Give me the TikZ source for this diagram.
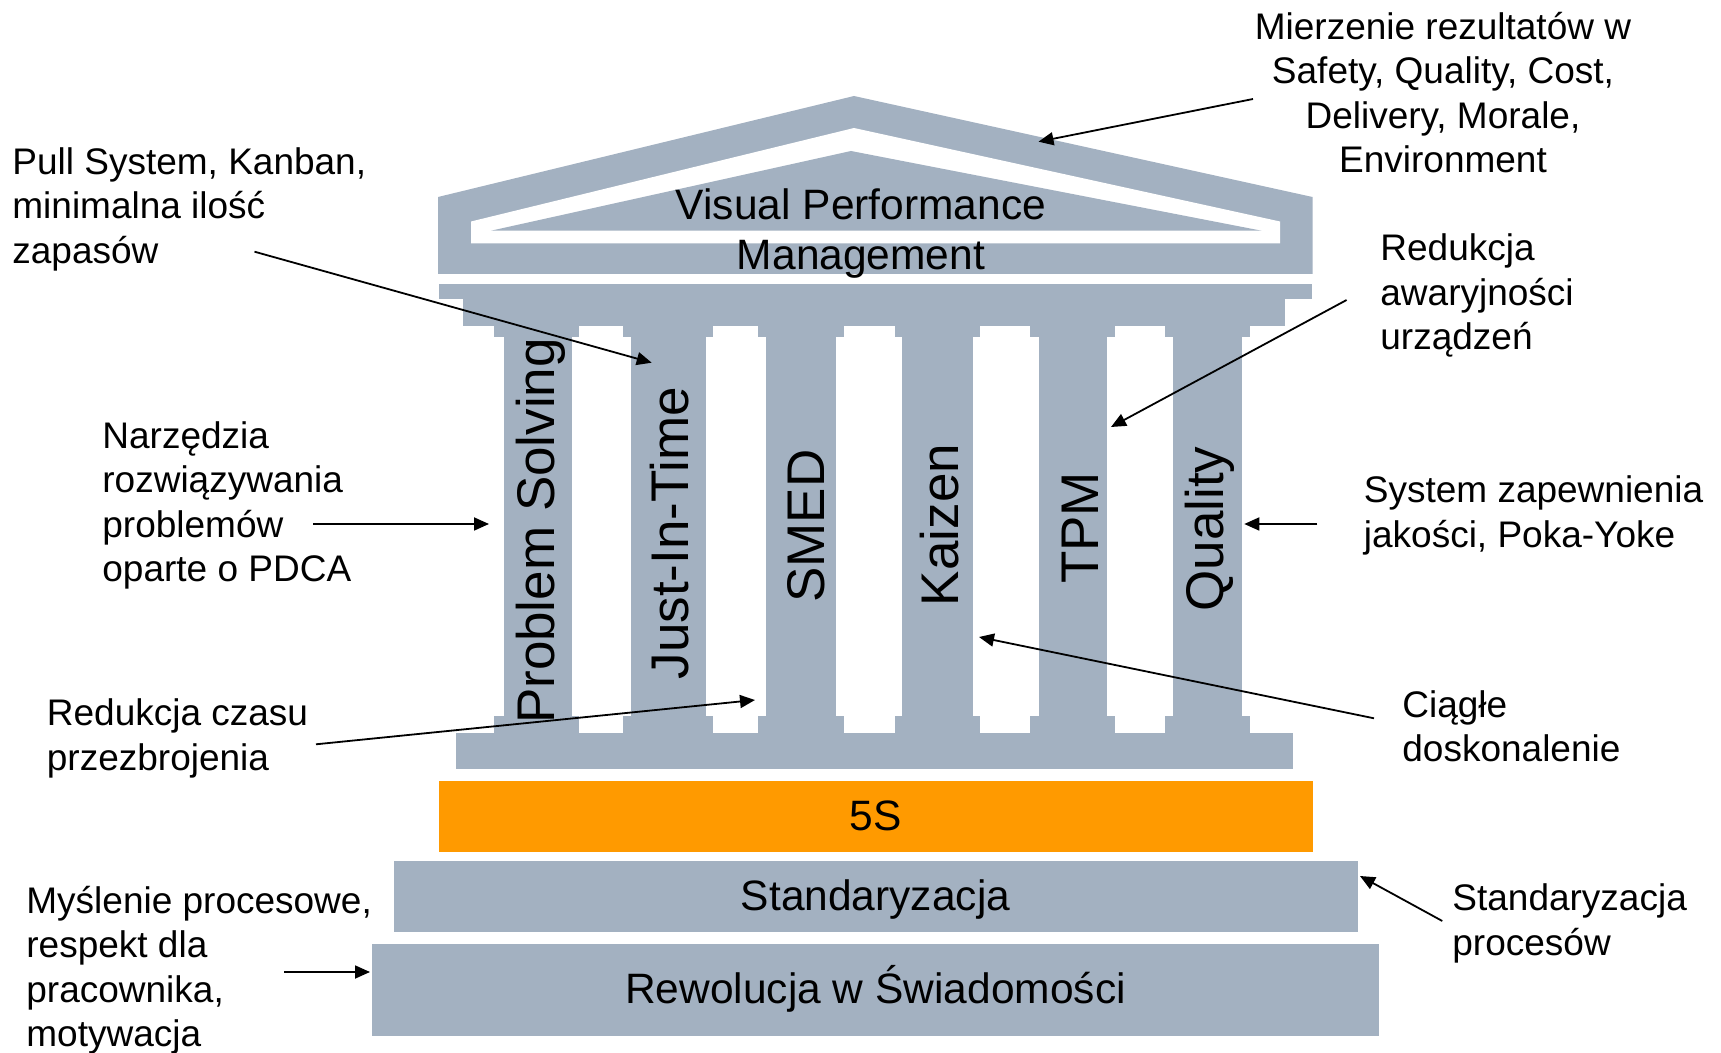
\documentclass[tikz,border=0pt]{standalone}
\usepackage{fontspec}
\setmainfont{Liberation Sans}
\usetikzlibrary{arrows.meta}
\definecolor{slate}{RGB}{163,177,193}
\definecolor{gold}{RGB}{255,154,0}
\begin{document}
\begin{tikzpicture}[x=0.5pt,y=-0.5pt,
  blk/.style={fill=slate,draw=none},
  lbl/.style={font=\fontsize{18.5pt}{22.25pt}\selectfont, inner sep=0pt, align=left, anchor=base west},
  bigtxt/.style={font=\fontsize{21.25pt}{25pt}\selectfont, inner sep=0pt, anchor=base},
  piltxt/.style={font=\fontsize{26.5pt}{30pt}\selectfont, inner sep=0pt, rotate=90, anchor=base},
  arr/.style={-{Triangle[length=7.5pt,width=6.5pt]}, line width=0.9pt}]
\useasboundingbox (0,0) rectangle (1721,1053);
% roof
\fill[slate] (438,197) -- (854,96) -- (1312.5,197) -- (1312.5,274) -- (438,274) -- cycle;
\fill[white] (471,221.5) -- (854,128) -- (1280,221.5) -- (1280,243.3) -- (471,243.3) -- cycle;
\fill[slate] (491,230.7) -- (851,151) -- (1261.5,230.7) -- cycle;
% entablature
\fill[slate] (439,284) rectangle (1312,299.3);
\fill[slate] (463,299) rectangle (1284.5,326.5);
% pillars: shaft l, r ; capital l, r
\foreach \sl/\sr/\cl/\cr in {504/571.5/494/578.5, 631/706/622.5/713.3, 765.7/835.8/757.5/843.5, 902.3/972.6/895/979.5, 1038.8/1107.4/1030.3/1115, 1173.4/1241.7/1165.3/1250}{
  \fill[slate] (\cl,326) rectangle (\cr,336.7);
  \fill[slate] (\sl,336) rectangle (\sr,717);
  \fill[slate] (\cl,716.5) rectangle (\cr,733.5);
}
\fill[slate] (456,733.3) rectangle (1293,769.5);
% foundation
\node[fill=gold, minimum width=436.75pt, minimum height=35.35pt, inner sep=0pt, anchor=north west] (fives) at (439,781) {};
\node[fill=slate, minimum width=481.85pt, minimum height=35.35pt, inner sep=0pt, anchor=north west] (stand) at (394,861) {};
\node[fill=slate, minimum width=503.5pt, minimum height=45.85pt, inner sep=0pt, anchor=north west] (rewol) at (372,944) {};
\node[bigtxt] (t5s) at (875.5,830) {5S};
\node[bigtxt] (tstand) at (875.5,910) {Standaryzacja};
\node[bigtxt] (trewol) at (875.5,1003.3) {Rewolucja w Świadomości};
\node[bigtxt] (tvpm1) at (861,220) {Visual Performance};
\node[bigtxt] (tvpm2) at (861,270) {Management};
% pillar labels
\node[piltxt] (ps) at (554,531) {Problem Solving};
\node[piltxt] (jit) at (688,533) {Just-In-Time};
\node[piltxt] (smed) at (824.5,526) {SMED};
\node[piltxt] (kaizen) at (958,525) {Kaizen};
\node[piltxt] (tpm) at (1098,528) {TPM};
\node[piltxt] (qual) at (1223,529) {Quality};
% side labels (anchored at the baseline of their last line)
\node[lbl, align=center, anchor=base] (mierz) at (1443,172.7) {Mierzenie rezultatów w\\Safety, Quality, Cost,\\Delivery, Morale,\\Environment};
\node[lbl] (pull) at (12,263.3) {Pull System, Kanban,\\minimalna ilość\\zapasów};
\node[lbl] (reda) at (1380,350) {Redukcja\\awaryjności\\urządzeń};
\node[lbl] (narz) at (102,581.7) {Narzędzia\\rozwiązywania\\problemów\\oparte o PDCA};
\node[lbl] (redc) at (46.5,770) {Redukcja czasu\\przezbrojenia};
\node[lbl] (sys) at (1363.5,547.3) {System zapewnienia\\jakości, Poka-Yoke};
\node[lbl] (ciag) at (1402,761.7) {Ciągłe\\doskonalenie};
\node[lbl] (stdp) at (1452,955) {Standaryzacja\\procesów};
\node[lbl] (mysl) at (26,1046.7) {Myślenie procesowe,\\respekt dla\\pracownika,\\motywacja};
% arrow end points
\coordinate (s1) at (1253,99);     \coordinate (e1) at (1038.5,141.7);
\coordinate (s2) at (254.5,251.7); \coordinate (e2) at (651.7,362.7);
\coordinate (s3) at (1346.6,300);  \coordinate (e3) at (1111,427);
\coordinate (s4) at (313.3,524);   \coordinate (e4) at (489,524);
\coordinate (s5) at (316,744.3);   \coordinate (e5) at (755,700);
\coordinate (s6) at (1317.3,524);  \coordinate (e6) at (1244.3,524);
\coordinate (s7) at (1374,718.3);  \coordinate (e7) at (979,637);
\coordinate (s8) at (1442.3,921);  \coordinate (e8) at (1360,876);
\coordinate (s9) at (284,972);     \coordinate (e9) at (370,972);
\foreach \i in {1,...,9}{\draw[arr] (s\i) -- (e\i);}
\end{tikzpicture}
\end{document}
